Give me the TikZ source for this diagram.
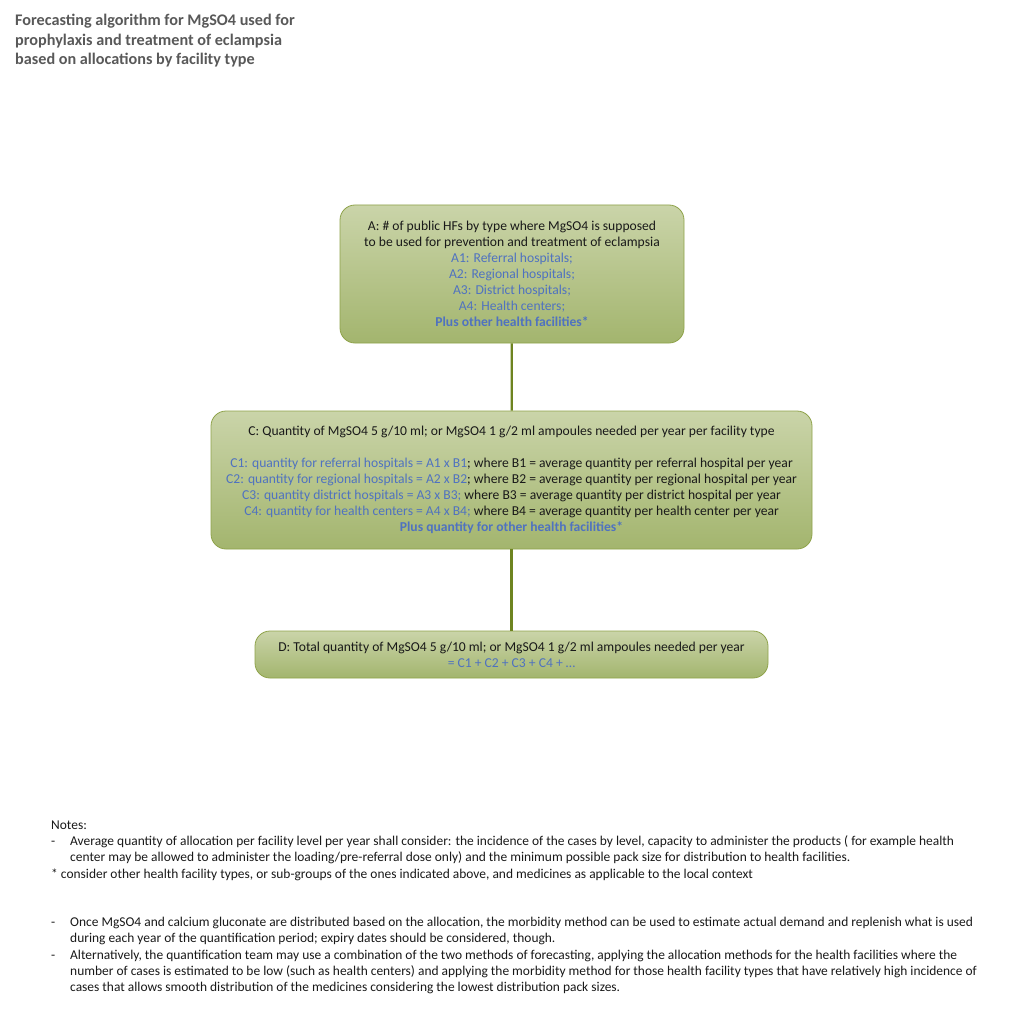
\documentclass[tikz,border=0pt]{standalone}
\usepackage{fontspec}
\setmainfont{Carlito}
\definecolor{boxtop}{HTML}{CAD4A9}
\definecolor{boxbot}{HTML}{A3B56E}
\definecolor{boxline}{HTML}{8FA34A}
\definecolor{olive}{HTML}{6E8420}
\definecolor{hfblue}{HTML}{4F72C0}
\definecolor{titlegrey}{HTML}{595959}
\newcommand{\bl}[1]{\textcolor{hfblue}{#1}}
\begin{document}
\begin{tikzpicture}[x=1pt, y=-1pt,
	box/.style={draw=boxline, line width=0.8pt, rounded corners=15pt,
		top color=boxtop, bottom color=boxbot, inner sep=0pt, align=center,
		font=\fontsize{13.6}{16}\selectfont, text=black!90},
	link/.style={draw=olive, line width=2.2pt}]
	\useasboundingbox[fill=white] (0,0) rectangle (1024,1024);

	% Title
	\node[anchor=north west, inner sep=0pt, align=left, text=titlegrey,
		font=\fontsize{16.2}{19.5}\selectfont\bfseries] (title) at (15,14)
		{Forecasting algorithm for MgSO4 used for\\
		prophylaxis and treatment of eclampsia\\
		based on allocations by facility type};

	% Boxes
	\node[box, minimum width=344pt, minimum height=138pt] (A) at (512,274)
		{A: \# of public HFs by type where MgSO4 is supposed\\
		to be used for prevention and treatment of eclampsia\\
		\bl{A1: Referral hospitals;}\\
		\bl{A2: Regional hospitals;}\\
		\bl{A3: District hospitals;}\\
		\bl{A4: Health centers;}\\
		\bl{\bfseries Plus other health facilities*}};

	\node[box, minimum width=601pt, minimum height=138pt] (C) at (511.5,480)
		{C: Quantity of MgSO4 5 g/10 ml; or MgSO4 1 g/2 ml ampoules needed per year per facility type\\[16pt]
		\bl{C1: quantity for referral hospitals = A1 x B1}; where B1 = average quantity per referral hospital per year\\
		\bl{C2: quantity for regional hospitals = A2 x B2}; where B2 = average quantity per regional hospital per year\\
		\bl{C3: quantity district hospitals = A3 x B3;} where B3 = average quantity per district hospital per year\\
		\bl{C4: quantity for health centers = A4 x B4;} where B4 = average quantity per health center per year\\
		\bl{\bfseries Plus quantity for other health facilities*}};

	\node[box, minimum width=513pt, minimum height=47pt] (D) at (511.5,654.5)
		{D: Total quantity of MgSO4 5 g/10 ml; or MgSO4 1 g/2 ml ampoules needed per year\\
		\bl{= C1 + C2 + C3 + C4 + \dots}};

	% Connections
	\draw[link] (A) -- (C);
	\draw[link] (C) -- (D);

	% Notes
	\node[anchor=north west, inner sep=0pt, align=left, text=black!90,
		font=\fontsize{13.45}{16.2}\selectfont] (notes) at (51,818)
		{\begin{tabular}{@{}p{19pt}@{}l@{}}
		\multicolumn{2}{@{}l@{}}{Notes:}\\
		- & Average quantity of allocation per facility level per year shall consider: the incidence of the cases by level, capacity to administer the products ( for example health\\
		  & center may be allowed to administer the loading/pre-referral dose only) and the minimum possible pack size for distribution to health facilities.\\
		\multicolumn{2}{@{}l@{}}{* consider other health facility types, or sub-groups of the ones indicated above, and medicines as applicable to the local context}\\
		& \\
		& \\
		- & Once MgSO4 and calcium gluconate are distributed based on the allocation, the morbidity method can be used to estimate actual demand and replenish what is used\\
		  & during each year of the quantification period; expiry dates should be considered, though.\\
		- & Alternatively, the quantification team may use a combination of the two methods of forecasting, applying the allocation methods for the health facilities where the\\
		  & number of cases is estimated to be low (such as health centers) and applying the morbidity method for those health facility types that have relatively high incidence of\\
		  & cases that allows smooth distribution of the medicines considering the lowest distribution pack sizes.
		\end{tabular}};
\end{tikzpicture}
\end{document}
